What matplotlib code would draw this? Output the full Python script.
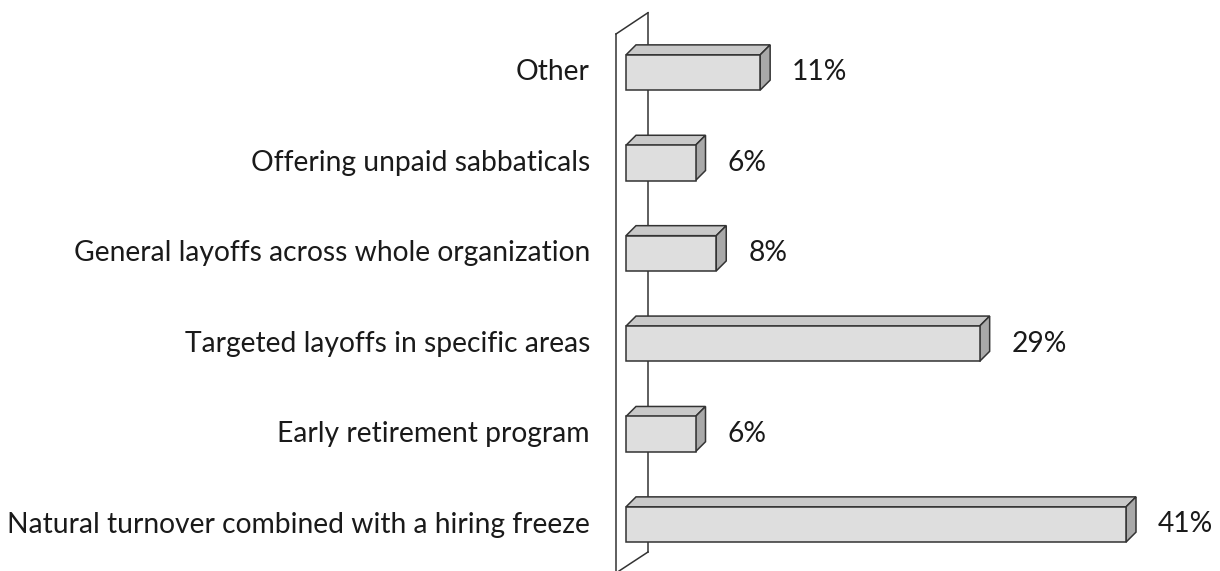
import matplotlib
matplotlib.use("Agg")
import matplotlib.pyplot as plt
from matplotlib.patches import Polygon
from matplotlib.lines import Line2D

# === DATA ===
categories = [
    "Natural turnover combined with a hiring freeze",
    "Early retirement program",
    "Targeted layoffs in specific areas",
    "General layoffs across whole organization",
    "Offering unpaid sabbaticals",
    "Other",
]
# bar lengths (labels are rounded)
values = [41, 5.7, 29, 7.4, 5.7, 11]
value_labels = ["41%", "6%", "29%", "8%", "6%", "11%"]

# === STYLE ===
FRONT = "#dedede"
TOP = "#c9c9c9"
SIDE = "#a9a9a9"
EDGE = "#333333"
FONT = "Lato"
FS = 20.3
W, H = 1220, 571
DEPTH = 10  # px, 3D offset of the bars
BAR_H = 0.39

fig = plt.figure(figsize=(W / 100, H / 100), dpi=100)
ax = fig.add_axes([626 / W, 46.5 / H, 500 / W, 452 / H])
ax.set_xlim(0, 41)
ax.set_ylim(0, 5)
ax.axis("off")

# convert pixel depth into data units
inv = ax.transData.inverted()
x0, y0 = inv.transform((0, 0))
x1, y1 = inv.transform((DEPTH, DEPTH))
ddx, ddy = x1 - x0, y1 - y0

# the slanted "wall" at the left (figure pixel coords)
def px(x, y):
    return x / W, (H - y) / H

wall = [
    [(648, 12.7), (648, 552)],           # back edge
    [(616, 34), (616, 575)],             # front edge
    [(616, 34), (648, 12.7)],            # top slant
    [(648, 552), (616, 573)],            # bottom slant
]
for seg in wall:
    xs, ys_ = zip(*[px(*p) for p in seg])
    ax.add_line(Line2D(xs, ys_, color=EDGE, lw=1.1, zorder=1,
                       transform=fig.transFigure, clip_on=False))

ys = list(range(len(categories)))
bars = ax.barh(ys, values, height=BAR_H, color=FRONT, edgecolor=EDGE, linewidth=1.1, zorder=4)
for b in bars:
    b.set_clip_on(False)

for y, v, lab, cat in zip(ys, values, value_labels, categories):
    top = y + BAR_H / 2
    bot = y - BAR_H / 2
    ax.add_patch(Polygon([(0, top), (v, top), (v + ddx, top + ddy), (ddx, top + ddy)],
                         closed=True, facecolor=TOP, edgecolor=EDGE, lw=1.1, zorder=3,
                         clip_on=False))
    ax.add_patch(Polygon([(v, bot), (v + ddx, bot + ddy), (v + ddx, top + ddy), (v, top)],
                         closed=True, facecolor=SIDE, edgecolor=EDGE, lw=1.1, zorder=3,
                         clip_on=False))
    ax.annotate(lab, xy=(v, y), xytext=(32, 0), textcoords="offset pixels",
                ha="left", va="center", fontsize=FS, family=FONT, color="#1a1a1a")
    ax.annotate(cat, xy=(0, y), xytext=(-36, 0), textcoords="offset pixels",
                ha="right", va="center", fontsize=FS, family=FONT, color="#1a1a1a")

fig.savefig("out.png", dpi=100)
